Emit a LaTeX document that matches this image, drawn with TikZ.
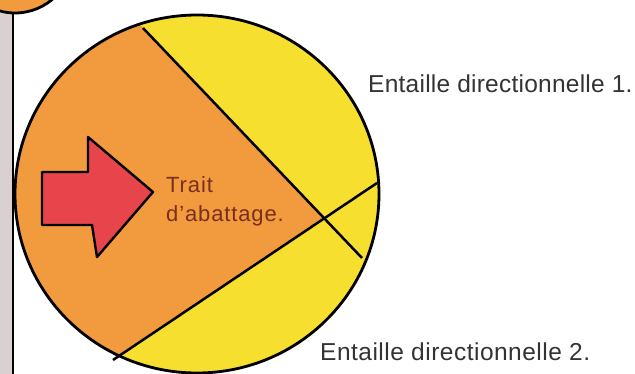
\documentclass[tikz,border=0pt]{standalone}
\usepackage{fontspec}
\setmainfont{Liberation Sans}
\definecolor{woodorange}{HTML}{F19A3E}
\definecolor{cutyellow}{HTML}{F7DF30}
\definecolor{arrowred}{HTML}{E8444C}
\definecolor{barpink}{HTML}{D9D0D2}
\definecolor{labelgray}{HTML}{333333}
\definecolor{labelbrown}{HTML}{7A2E1C}
\begin{document}
\begin{tikzpicture}[x=1pt,y=-1pt,
  outline/.style={draw=black,line width=2.8pt},
  cutline/.style={draw=black,line width=2.5pt},
  lbl/.style={inner sep=0pt,anchor=base west,text=labelgray,font=\fontsize{24.5}{28}\selectfont},
  innerlbl/.style={inner sep=0pt,anchor=base west,text=labelbrown,font=\fontsize{22}{26}\selectfont\addfontfeature{LetterSpace=4}}]
\useasboundingbox (0,0) rectangle (635,374);
% post and ball at top left
\fill[barpink] (0,13) rectangle (12,374);
\draw[line width=2.8pt] (13,12) -- (13,374);
\begin{scope}
\clip (0,0) rectangle (635,374);
\draw[outline,fill=woodorange] (15,-45) circle [radius=58];
\end{scope}
% trunk section
\coordinate (ctr) at (197,194);
\coordinate (a1) at (143,28);
\coordinate (b1) at (362,258);
\coordinate (a2) at (113,360);
\coordinate (b2) at (377,183);
\coordinate (x) at (324.2,218.4);
\fill[cutyellow] (ctr) ellipse [x radius=182,y radius=179];
\begin{scope}
\clip (ctr) ellipse [x radius=182,y radius=179];
\fill[woodorange] (a1) -- (99,-18) -- (-10,-18) -- (-10,420) -- (60,395) -- (a2) -- (x) -- cycle;
\end{scope}
\draw[cutline] (a1) -- (b1);
\draw[cutline] (a2) -- (b2);
\draw[outline] (ctr) ellipse [x radius=182,y radius=179];
% arrow
\draw[line width=2.4pt,line join=round,fill=arrowred]
  (42,172) -- (88,172) -- (88,137) -- (153,192) -- (97,257) -- (92,225) -- (42,225) -- cycle;
% labels
\node[innerlbl] (t1) at (166,193) {Trait};
\node[innerlbl] (t2) at (166,222) {d'abattage.};
\node[lbl,font=\fontsize{24.5}{28}\selectfont\addfontfeature{LetterSpace=1}] (e1) at (368,93) {Entaille directionnelle 1.};
\node[lbl,font=\fontsize{24.5}{28}\selectfont\addfontfeature{LetterSpace=2}] (e2) at (320,360) {Entaille directionnelle 2.};
\end{tikzpicture}
\end{document}
